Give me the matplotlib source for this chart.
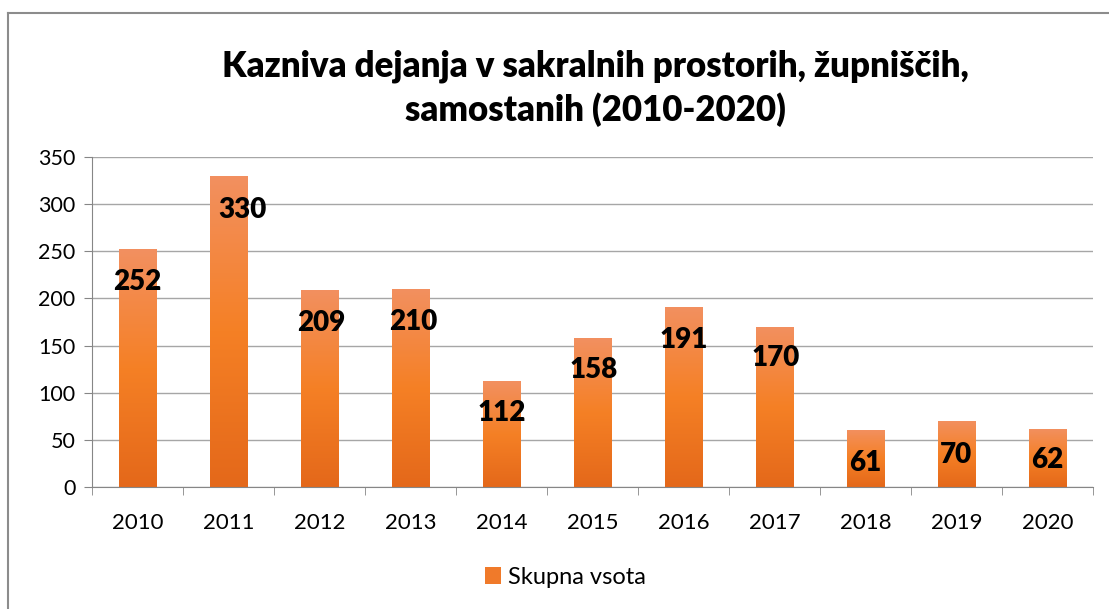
import numpy as np
import matplotlib
matplotlib.use('Agg')
import matplotlib.pyplot as plt
from matplotlib.colors import LinearSegmentedColormap
from matplotlib.lines import Line2D
from matplotlib.patches import Patch

# podatki
years = ['2010', '2011', '2012', '2013', '2014', '2015', '2016', '2017', '2018', '2019', '2020']
values = [252, 330, 209, 210, 112, 158, 191, 170, 61, 70, 62]
# položaj oznak (kot v Excelu ročno premaknjene)
label_y = [217, 294, 174, 175, 78, 124, 156, 137, 26, 34, 29]
label_dx = [0, 0.15, 0.02, 0.03, 0, 0.01, 0, 0.01, 0, 0, 0]

title = 'Kazniva dejanja v sakralnih prostorih, župniščih,\nsamostanih (2010-2020)'
series_name = 'Skupna vsota'

plt.rcParams['font.family'] = ['Lato', 'DejaVu Sans']

fig = plt.figure(figsize=(11.09, 6.09), dpi=100)
ax = fig.add_axes([0.083, 0.2003, 0.9025, 0.5419])

x = np.arange(len(years))
bars = ax.bar(x, values, width=0.41, color='#F58025', zorder=2)

# gradient v stolpcih
cmap = LinearSegmentedColormap.from_list('og', ['#E4681A', '#F58025', '#F29060'])
grad = np.linspace(0, 1, 256).reshape(-1, 1)
for b in bars:
    bx, by = b.get_x(), b.get_y()
    im = ax.imshow(grad, extent=[bx, bx + b.get_width(), by, by + b.get_height()],
                   origin='lower', cmap=cmap, aspect='auto', zorder=2)
    im.set_clip_path(b)
    b.set_facecolor('none')

for i, v in enumerate(values):
    ax.text(i + label_dx[i], label_y[i], str(v), ha='center', va='center',
            fontsize=20, fontweight='heavy', color='black', zorder=3)

ax.set_xlim(-0.5, len(years) - 0.5)
ax.set_ylim(0, 350)
ax.set_yticks(range(0, 351, 50))
ax.set_xticks(x)
ax.set_xticklabels(years)
ax.set_xticks(np.arange(-0.5, len(years), 1), minor=True)
ax.tick_params(axis='x', which='major', length=0, pad=19, labelsize=16)
ax.tick_params(axis='x', which='minor', length=6, color='#868686')
ax.tick_params(axis='y', length=6, color='#868686', labelsize=15.5, pad=6)
ax.grid(axis='y', color='#A6A6A6', linewidth=1, zorder=0)
ax.set_axisbelow(True)
for s in ['top', 'right']:
    ax.spines[s].set_visible(False)
ax.spines['left'].set_color('#868686')
ax.spines['bottom'].set_color('#868686')

fig.text(0.537, 0.855, title, ha='center', va='center', fontsize=25,
         fontweight='heavy', linespacing=1.32)

handle = Patch(facecolor='#F07A2A', edgecolor='none')
fig.legend([handle], [series_name], loc='center', bbox_to_anchor=(0.51, 0.052),
           frameon=False, fontsize=17, handlelength=0.7, handleheight=0.7,
           handletextpad=0.3)

# okvir grafikona
fig.add_artist(Line2D([8 / 1109, 1], [1 - 13 / 609, 1 - 13 / 609],
                      transform=fig.transFigure, color='#8C8C8C', lw=1.5))
fig.add_artist(Line2D([8 / 1109, 8 / 1109], [0, 1 - 13 / 609],
                      transform=fig.transFigure, color='#8C8C8C', lw=1.5))

plt.savefig('out.png', dpi=100)
